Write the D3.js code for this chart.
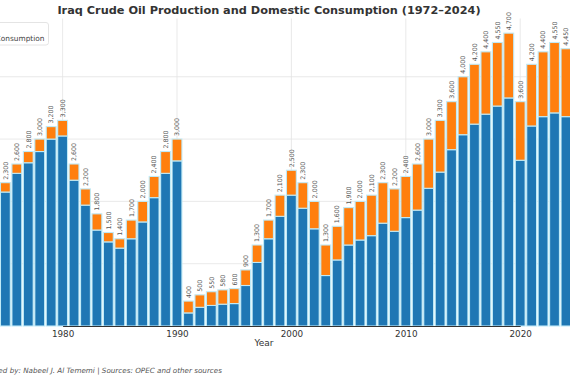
<!DOCTYPE html>
<html><head><meta charset="utf-8">
<script src="https://cdn.jsdelivr.net/npm/d3@7"></script>
<style>html,body{margin:0;padding:0;background:#fff;overflow:hidden}svg{display:block}</style>
</head><body>
<script>
const years = d3.range(1972, 2025);
const production = [1500,2000,2000,2300,2600,2800,3000,3200,3300,2600,2200,1800,1500,1400,1700,2000,2400,2800,3000,
  400,500,550,580,600,900,1300,1700,2100,2500,2300,2000,1300,1600,1900,2000,2100,2300,2200,2400,2600,3000,
  3300,3600,4000,4200,4400,4550,4700,3600,4200,4400,4550,4450];
const consumption = [100,100,120,150,150,180,200,200,250,260,260,260,150,150,300,330,340,350,350,
  190,200,220,230,240,250,280,300,340,400,410,440,490,540,600,620,650,650,680,660,740,790,
  830,770,930,960,1000,1020,1040,940,990,1040,1130,1090];
const xTicks = [1980, 1990, 2000, 2010, 2020];
const yTicks = [0, 1000, 2000, 3000, 4000];
const seriesNames = ["Crude Oil Production", "Domestic Consumption"];
const colors = ["#1f77b4", "#ff7f0e"];

const W = 570, H = 380;
const svg = d3.select("body").append("svg").attr("width", W).attr("height", H)
  .style("font-family", "'DejaVu Sans', sans-serif");

const x = d3.scaleLinear().domain([1980, 2020]).range([62.6, 520.2]);
const y = d3.scaleLinear().domain([0, 4935]).range([326, 18.5]);
const step = x(1981) - x(1980);
const bw = step * 0.86;

// grid
svg.append("g").selectAll("line").data(yTicks.slice(1)).join("line")
  .attr("x1", 0).attr("x2", W).attr("y1", d => y(d)).attr("y2", d => y(d))
  .attr("stroke", "#e3e3e3").attr("stroke-width", 0.8);
svg.append("g").selectAll("line").data(xTicks).join("line")
  .attr("x1", d => x(d)).attr("x2", d => x(d)).attr("y1", y(4935)).attr("y2", y(0))
  .attr("stroke", "#e3e3e3").attr("stroke-width", 0.8);

const data = years.map((yr, i) => ({year: yr, total: production[i], cons: consumption[i], base: production[i] - consumption[i]}));
const stack = d3.stack().keys(["base", "cons"])(data);

svg.append("g").selectAll("g").data(stack).join("g")
  .attr("fill", (d, i) => colors[i])
  .selectAll("rect").data(d => d).join("rect")
  .attr("x", d => x(d.data.year) - bw / 2)
  .attr("width", bw)
  .attr("y", d => y(d[1]))
  .attr("height", d => y(d[0]) - y(d[1]))
  .attr("stroke", "#bfeaf7").attr("stroke-width", 1.1);

// labels (only for bars inside the visible area)
svg.append("g").selectAll("text").data(data.filter(d => x(d.year) > 0)).join("text")
  .attr("transform", d => `translate(${x(d.year) + 2.3},${y(d.total) - 3}) rotate(-90)`)
  .attr("font-size", 6.3).attr("fill", "#555")
  .text(d => d3.format(",")(d.total));

// axis
const ax = svg.append("g").attr("transform", `translate(0,${y(0)})`)
  .call(d3.axisBottom(x).tickValues(xTicks).tickFormat(d3.format("d")).tickSize(0).tickPadding(5));
ax.select(".domain").attr("stroke", "#333").attr("stroke-width", 1);
ax.selectAll("text").attr("font-size", 8.8).attr("fill", "#333").attr("font-family", "'DejaVu Sans', sans-serif");

svg.append("text").attr("x", 264).attr("y", 346).attr("text-anchor", "middle")
  .attr("font-size", 9).attr("fill", "#333").text("Year");

// title
const title = svg.append("text").attr("x", 269).attr("y", 14).attr("text-anchor", "middle")
  .attr("font-weight", "bold").attr("font-size", 11.5).attr("fill", "#333")
  .text("Iraq Crude Oil Production and Domestic Consumption (1972\u20132024)");
const tw = title.node().getComputedTextLength();
title.attr("font-size", 11.5 * 424 / tw);

// legend (clipped on the left, as in the reference)
const lfs = 7.4;
const lg = svg.append("g");
const lgText2 = lg.append("text").attr("x", 44.5).attr("y", 40.5).attr("text-anchor", "end")
  .attr("font-size", lfs).attr("fill", "#444").text(seriesNames[1]);
const t2w = lgText2.node().getComputedTextLength();
const sw2x = 44.5 - t2w - 14;
lg.append("rect").attr("x", sw2x).attr("y", 33.5).attr("width", 11).attr("height", 6.5).attr("fill", colors[1]);
const lgText1 = lg.append("text").attr("x", sw2x - 8).attr("y", 40.5).attr("text-anchor", "end")
  .attr("font-size", lfs).attr("fill", "#444").text(seriesNames[0]);
const t1w = lgText1.node().getComputedTextLength();
const sw1x = sw2x - 8 - t1w - 14;
lg.append("rect").attr("x", sw1x).attr("y", 33.5).attr("width", 11).attr("height", 6.5).attr("fill", colors[0]);
lg.insert("rect", ":first-child").attr("x", sw1x - 6).attr("y", 22.5).attr("width", 48.5 - sw1x + 6).attr("height", 22.5)
  .attr("rx", 2.5).attr("fill", "#fff").attr("fill-opacity", 0.85).attr("stroke", "#ddd").attr("stroke-width", 0.8);

// footer
const foot = svg.append("text").attr("x", 222).attr("y", 372.5).attr("text-anchor", "end")
  .attr("font-size", 7.2).attr("font-style", "italic").attr("fill", "#555")
  .text("Prepared by: Nabeel J. Al Tememi | Sources: OPEC and other sources");
</script>
</body></html>
